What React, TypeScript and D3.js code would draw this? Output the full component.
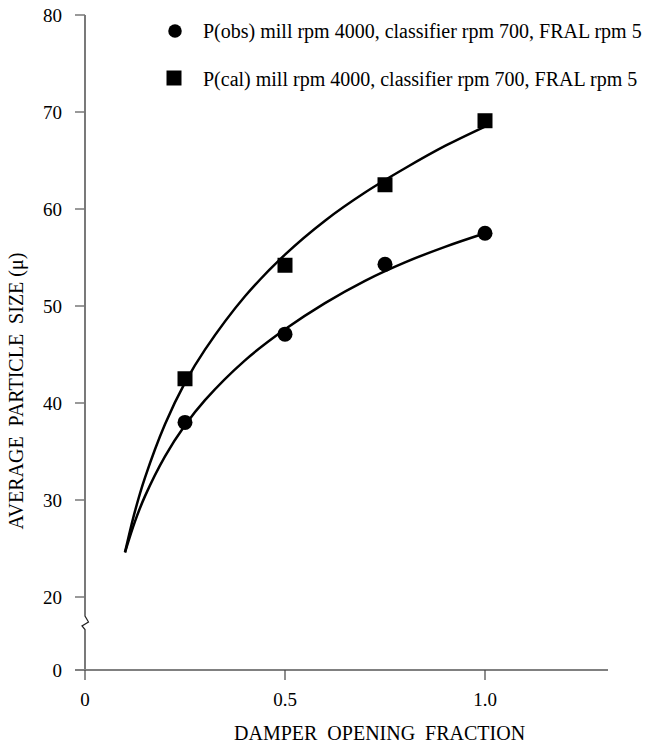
import React from "react";
import * as d3 from "d3";

// measured points
const damper = [0.25, 0.5, 0.75, 1.0];
const obsSize = [38.0, 47.1, 54.3, 57.5];
const calSize = [42.5, 54.2, 62.5, 69.1];

// fitted curves
const curveX = [0.1, 0.125, 0.15, 0.2, 0.25, 0.3, 0.4, 0.5, 0.6, 0.7, 0.8, 0.9, 1.0];
const obsCurve = [24.6, 27.8, 30.4, 34.5, 37.7, 40.3, 44.4, 47.6, 50.3, 52.6, 54.5, 56.1, 57.5];
const calCurve = [24.6, 28.85, 32.3, 37.8, 42.1, 45.5, 51.0, 55.3, 58.8, 61.7, 64.2, 66.5, 68.5];

const yTicks = [0, 20, 30, 40, 50, 60, 70, 80];
const xTicks = [0, 0.5, 1.0];
const xTickLabels = ["0", "0.5", "1.0"];

const legendLabels = [
  "P(obs) mill rpm 4000, classifier rpm 700, FRAL rpm 5",
  "P(cal) mill rpm 4000, classifier rpm 700, FRAL rpm 5",
];

const FONT = "Liberation Serif, Times New Roman, serif";

export default function App() {
  const width = 647;
  const height = 747;

  const x = d3.scaleLinear().domain([0, 1]).range([85, 485]);
  // broken axis: 0 sits below the break, 20..80 linear above it
  const y = d3.scaleLinear().domain([0, 20, 80]).range([670, 597, 15]);

  const line = d3
    .line<[number, number]>()
    .x((d) => x(d[0]))
    .y((d) => y(d[1]))
    .curve(d3.curveCatmullRom);

  const obsPath = line(curveX.map((v, i) => [v, obsCurve[i]]));
  const calPath = line(curveX.map((v, i) => [v, calCurve[i]]));

  const circle = d3.symbol().type(d3.symbolCircle).size(Math.PI * 7.5 * 7.5)();
  const square = d3.symbol().type(d3.symbolSquare).size(15 * 15)();

  const axisX0 = x(0);
  const yAxisPath = `M${axisX0},${y(80)} V616 L${axisX0 + 3.5},622 L${axisX0 - 3},626 L${axisX0},629.5 V${y(0)}`;

  return (
    <svg
      width={width}
      height={height}
      style={{ position: "absolute", left: 0, top: 0, background: "#fff", fontFamily: FONT }}
    >
      {/* y axis */}
      <path d={yAxisPath} fill="none" stroke="#222" strokeWidth={1.2} />
      {yTicks.map((t) => (
        <g key={t}>
          <line x1={axisX0 - 10} x2={axisX0} y1={y(t)} y2={y(t)} stroke="#777" strokeWidth={1.5} />
          <text x={62} y={y(t)} dy="0.35em" textAnchor="end" fontSize={19}>
            {t}
          </text>
        </g>
      ))}

      {/* x axis */}
      <line x1={axisX0 - 10} x2={608} y1={y(0)} y2={y(0)} stroke="#808080" strokeWidth={2} />
      {xTicks.map((t, i) => (
        <g key={t}>
          <line x1={x(t)} x2={x(t)} y1={y(0)} y2={y(0) + 10} stroke="#444" strokeWidth={1.2} />
          <text x={x(t)} y={706} textAnchor="middle" fontSize={19}>
            {xTickLabels[i]}
          </text>
        </g>
      ))}

      <text x={234} y={740} fontSize={20} style={{ whiteSpace: "pre" }}>
        {"DAMPER  OPENING  FRACTION"}
      </text>
      <text
        transform={`translate(23,391) rotate(-90)`}
        textAnchor="middle"
        fontSize={20}
        style={{ whiteSpace: "pre" }}
      >
        {"AVERAGE  PARTICLE  SIZE (\u03bc)"}
      </text>

      {/* fitted curves */}
      <path d={calPath ?? ""} fill="none" stroke="#000" strokeWidth={2.5} />
      <path d={obsPath ?? ""} fill="none" stroke="#000" strokeWidth={2.5} />

      {/* markers */}
      {damper.map((d, i) => (
        <path key={"c" + d} d={circle ?? ""} transform={`translate(${x(d)},${y(obsSize[i])})`} fill="#000" />
      ))}
      {damper.map((d, i) => (
        <path key={"s" + d} d={square ?? ""} transform={`translate(${x(d)},${y(calSize[i])})`} fill="#000" />
      ))}

      {/* legend */}
      <path d={circle ?? ""} transform="translate(175,31) scale(0.9)" fill="#000" />
      <text x={203} y={38} fontSize={20}>
        {legendLabels[0]}
      </text>
      <path d={square ?? ""} transform="translate(174,78)" fill="#000" />
      <text x={203} y={86} fontSize={20}>
        {legendLabels[1]}
      </text>
    </svg>
  );
}
